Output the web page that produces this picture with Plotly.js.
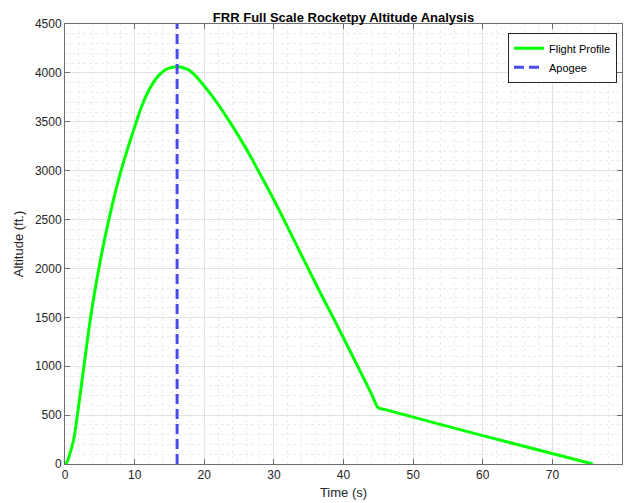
<!DOCTYPE html>
<html>
<head>
<meta charset="utf-8">
<script src="https://cdn.plot.ly/plotly-3.0.1.min.js"></script>
<style>
  html, body { margin: 0; padding: 0; background: #ffffff; }
  #chart { width: 627px; height: 503px; }
</style>
</head>
<body>
<div id="chart"></div>
<script>
// Flight profile: time (s) and altitude (ft.)
const timeS = [0, 0.3, 0.65, 1.05, 1.35, 1.78, 2.72, 3.68, 4.86, 6.30, 8.05, 10.25, 11.25, 12.5, 13.6, 14.5, 15.3, 16.1, 17.0, 18.0, 20.82, 23.69, 26.3, 27.75, 29.9, 31.33, 33.73, 34.92, 37.07, 38.5, 42.1, 44.0, 45.0, 46.0, 60.0, 75.8];
const altitudeFt = [0, 22, 95, 190, 290, 500, 1000, 1500, 2000, 2500, 3000, 3500, 3700, 3880, 3985, 4035, 4055, 4062, 4052, 4020, 3793, 3497, 3190, 3000, 2715, 2515, 2170, 2000, 1695, 1500, 990, 720, 575, 556, 290, 0];

// Apogee marker
const apogeeTime = [16.1, 16.1];
const apogeeRange = [0, 4500];

// Axis ticks
const xTicks = [0, 10, 20, 30, 40, 50, 60, 70, 80];
const yTicks = [0, 500, 1000, 1500, 2000, 2500, 3000, 3500, 4000, 4500];

const seriesNames = ['Flight Profile', 'Apogee'];

const FONT = 'Liberation Sans, Arial, Helvetica, sans-serif';
const TXT = '#262626';
const AXC = '#6e6e6e';

const traces = [
  {
    x: timeS, y: altitudeFt, type: 'scatter', mode: 'lines', name: seriesNames[0],
    line: { color: '#00ff00', width: 3, shape: 'spline', smoothing: 1 }
  },
  {
    x: apogeeTime, y: apogeeRange, type: 'scatter', mode: 'lines', name: seriesNames[1],
    line: { color: '#4a4aee', width: 3, dash: '10px,5px' }
  }
];

const axisCommon = {
  showline: true, linecolor: AXC, linewidth: 1, mirror: 'ticks',
  ticks: 'inside', ticklen: 5, tickwidth: 1, tickcolor: AXC,
  showgrid: true, gridcolor: '#e2e2e2', gridwidth: 1,
  zeroline: false, tickfont: { family: FONT, size: 12, color: TXT },
  fixedrange: true
};

const layout = {
  width: 627, height: 503,
  margin: { l: 65, r: 5, t: 24, b: 39 },
  paper_bgcolor: '#ffffff', plot_bgcolor: '#ffffff',
  font: { family: FONT, color: TXT },
  title: {
    text: '<b>FRR Full Scale Rocketpy Altitude Analysis</b>',
    font: { family: FONT, size: 13, color: '#000000' },
    xref: 'paper', x: 0.5, xanchor: 'center',
    yref: 'container', y: 0.966, yanchor: 'middle'
  },
  xaxis: Object.assign({}, axisCommon, {
    range: [0, 80], tickvals: xTicks, ticktext: xTicks.map(String),
    minor: { dtick: 2, tick0: 0, showgrid: true, gridcolor: '#ebebeb', griddash: 'dot', gridwidth: 1, ticks: '' },
    title: { text: 'Time (s)', font: { family: FONT, size: 13, color: TXT }, standoff: 6 }
  }),
  yaxis: Object.assign({}, axisCommon, {
    range: [0, 4500], tickvals: yTicks, ticktext: yTicks.map(String),
    minor: { dtick: 100, tick0: 0, showgrid: true, gridcolor: '#ebebeb', griddash: 'dot', gridwidth: 1, ticks: '' },
    title: { text: 'Altitude (ft.)', font: { family: FONT, size: 13, color: TXT }, standoff: 8 }
  }),
  showlegend: true,
  legend: {
    x: 0.991, y: 0.98, xanchor: 'right', yanchor: 'top',
    bgcolor: '#ffffff', bordercolor: '#262626', borderwidth: 1,
    font: { family: FONT, size: 11, color: '#000000' },
    tracegroupgap: 0, itemwidth: 30
  }
};

Plotly.newPlot('chart', traces, layout, { displayModeBar: false, staticPlot: true });
</script>
</body>
</html>
